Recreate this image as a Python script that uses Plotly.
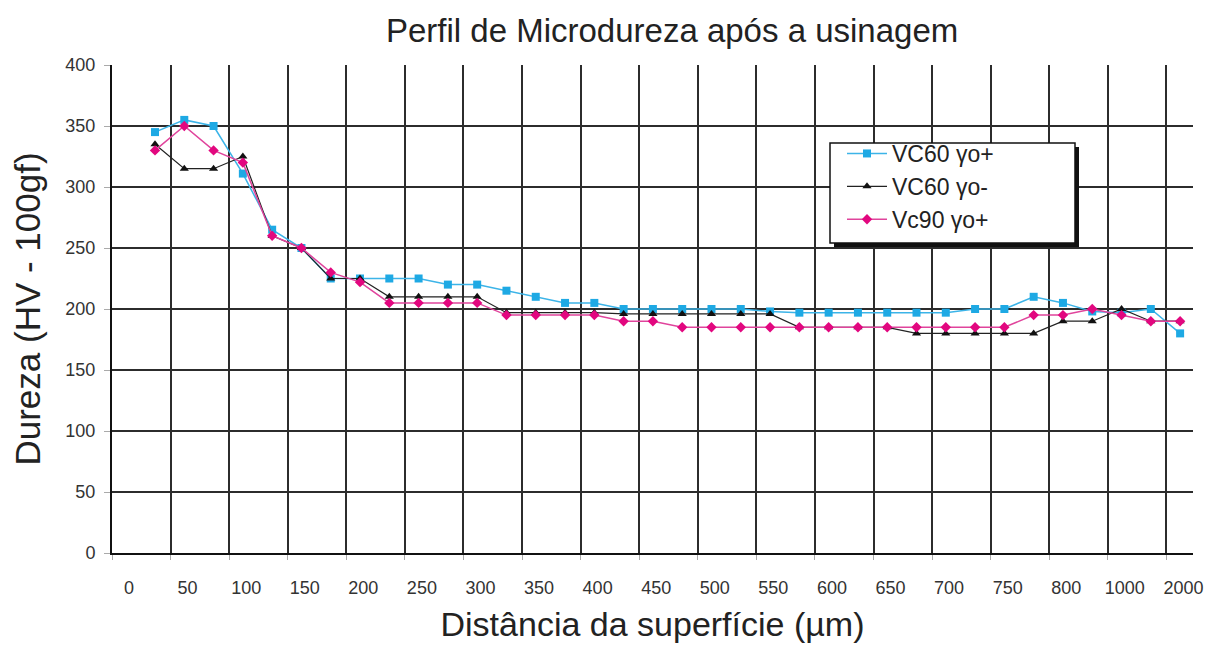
import plotly.graph_objects as go

# Tick labels on the x axis (distance from surface, µm)
rotulos_x = ["0", "50", "100", "150", "200", "250", "300", "350", "400", "450",
             "500", "550", "600", "650", "700", "750", "800", "1000", "2000"]

# Measurement points (sequence index along the profile)
pontos = list(range(36))

# Hardness values (HV - 100gf)
vc60_pos = [345, 355, 350, 311, 265, 250, 225, 225, 225, 225, 220, 220, 215, 210, 205, 205,
            200, 200, 200, 200, 200, 198, 197, 197, 197, 197, 197, 197, 200, 200, 210, 205,
            198, 197, 200, 180]
vc60_neg = [335, 315, 315, 325, 260, 250, 225, 225, 210, 210, 210, 210, 197, 197, 197, 197,
            196, 196, 196, 196, 196, 196, 185, 185, 185, 185, 180, 180, 180, 180, 180, 190,
            190, 200, 190, 190]
vc90_pos = [330, 350, 330, 320, 260, 250, 230, 222, 205, 205, 205, 205, 195, 195, 195, 195,
            190, 190, 185, 185, 185, 185, 185, 185, 185, 185, 185, 185, 185, 185, 195, 195,
            200, 195, 190, 190]

nomes = ["VC60 γo+", "VC60 γo-", "Vc90 γo+"]

# axis geometry (in point-index units)
x_min, x_max = -1.468, 35.44
grade_x = [x_min + 2 * k for k in range(len(rotulos_x))]

fig = go.Figure()
fig.add_trace(go.Scatter(
    x=pontos, y=vc60_pos, mode="lines+markers", name=nomes[0],
    line=dict(color="#3cb4e8", width=1.5),
    marker=dict(symbol="square", size=8, color="#1ea9e4")))
fig.add_trace(go.Scatter(
    x=pontos, y=vc60_neg, mode="lines+markers", name=nomes[1],
    line=dict(color="#222222", width=1.2),
    marker=dict(symbol="triangle-up", size=8, color="#111111")))
fig.add_trace(go.Scatter(
    x=pontos, y=vc90_pos, mode="lines+markers", name=nomes[2],
    line=dict(color="#e0449c", width=1.5),
    marker=dict(symbol="diamond", size=8, color="#e2077f")))

tick_font = dict(family="Liberation Sans, Arial", size=18, color="#333333")

# plot-area pixel geometry -> paper fractions (for the legend frame)
L, T, W, H = 112, 65, 1081, 488
def px(x):
    return (x - L) / W
def py(y):
    return (T + H - y) / H

box = dict(x0=px(830), x1=px(1075), y0=py(243), y1=py(143))

fig.update_layout(
    width=1222, height=650,
    margin=dict(l=L, r=1222 - L - W, t=T, b=650 - T - H),
    paper_bgcolor="white", plot_bgcolor="white",
    font=dict(family="Liberation Sans, Arial", color="#222222"),
    title=dict(text="Perfil de Microdureza após a usinagem", x=0.55, xanchor="center",
               y=1 - 30 / 650, yanchor="middle", yref="container",
               font=dict(size=33, color="#222222")),
    showlegend=True,
    legend=dict(x=px(842), y=py(132), xanchor="left", yanchor="top",
                bgcolor="rgba(0,0,0,0)", borderwidth=0,
                font=dict(size=23, color="#222222"), itemwidth=40),
    shapes=[
        dict(type="rect", xref="paper", yref="paper", layer="above",
             x0=box["x0"] + 4 / W, x1=box["x1"] + 4 / W,
             y0=box["y0"] - 4 / H, y1=box["y1"] - 4 / H,
             fillcolor="#111111", line=dict(width=0)),
        dict(type="rect", xref="paper", yref="paper", layer="above",
             x0=box["x0"], x1=box["x1"], y0=box["y0"], y1=box["y1"],
             fillcolor="white", line=dict(color="#111111", width=1.5)),
    ],
    xaxis=dict(range=[x_min, x_max], tickmode="array", tickvals=grade_x, ticktext=rotulos_x,
               ticklabelshift=17, ticklabelstandoff=12,
               showgrid=True, gridcolor="#2c2c2c", gridwidth=1.7,
               showline=True, linecolor="#111111", linewidth=2, zeroline=False,
               ticks="outside", ticklen=5, tickcolor="#aaaaaa", tickfont=tick_font,
               title=dict(text="Distância da superfície (µm)", font=dict(size=34), standoff=16)),
    yaxis=dict(range=[0, 400], tickmode="linear", tick0=0, dtick=50,
               ticklabelstandoff=5,
               showgrid=True, gridcolor="#2c2c2c", gridwidth=1.7,
               showline=True, linecolor="#111111", linewidth=2, zeroline=False,
               ticks="outside", ticklen=6, tickcolor="#aaaaaa", tickfont=tick_font,
               title=dict(text="Dureza (HV - 100gf)", font=dict(size=35), standoff=14)),
)

fig.write_html("out.html")
